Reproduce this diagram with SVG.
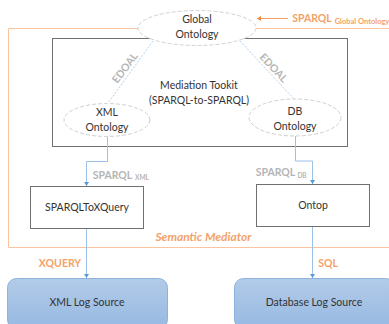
<svg xmlns="http://www.w3.org/2000/svg" width="389" height="324" viewBox="0 0 389 324">
<style>
text{font-family:Lato,"Open Sans","Liberation Sans",sans-serif;fill:#333;font-size:10.500px;text-anchor:middle}
.o{fill:#f4a26a;font-weight:700}
.g{fill:#b5b5b5;font-weight:700}
.e{fill:#fff;stroke:#d0d0d0;stroke-width:1;stroke-dasharray:4 2}
.b{fill:#fff;stroke:#707070;stroke-width:1}
.c{fill:none;stroke:#9cc2e8;stroke-width:1}
.d{fill:none;stroke:#b4d2f0;stroke-width:1;stroke-dasharray:2 1.500}
.s{fill:url(#lg);stroke:#8db3dd;stroke-width:1}
</style>
<defs>
<linearGradient id="lg" x1="0" y1="0" x2="0" y2="1"><stop offset="0" stop-color="#b2cbe8"/><stop offset="1" stop-color="#97b9e2"/></linearGradient>
<marker id="a" markerWidth="5" markerHeight="5" refX="4" refY="2.500" orient="auto" markerUnits="userSpaceOnUse"><path d="M0 0L4 2.500L0 5z" fill="#5b9bd5"/></marker>
<marker id="ao" markerWidth="5" markerHeight="5" refX="4" refY="2.500" orient="auto" markerUnits="userSpaceOnUse"><path d="M0 0L4 2.500L0 5z" fill="#f08a3c"/></marker>
</defs>
<g id="semantic-mediator">
<path d="M140 28.500H8.500V247.500H389M255 28.500H389" fill="none" stroke="#fbc4a0" stroke-width="1"/>
<text x="203.500" y="241" class="o" font-style="italic" style="font-size:12px">Semantic Mediator</text>
</g>
<g id="mediation-toolkit">
<rect x="52.500" y="38.500" width="295" height="108" class="b"/>
<text x="199" y="89">Mediation Tookit</text>
<text x="199" y="104">(SPARQL-to-SPARQL)</text>
</g>
<g id="connectors">
<path d="M153 41L108 103" class="d"/>
<path d="M240 41L294 99" class="d"/>
<path d="M107.500 136V161.500H86.500V186" class="c" marker-end="url(#a)"/>
<path d="M295.500 136V161H312.500V184" class="c" marker-end="url(#a)"/>
<path d="M86.500 229V278" class="c" marker-end="url(#a)"/>
<path d="M312.500 227V278" class="c" marker-end="url(#a)"/>
<path d="M288 18.500H257" fill="none" stroke="#f4a26a" stroke-width="1" marker-end="url(#ao)"/>
</g>
<g id="global-ontology">
<ellipse cx="197" cy="28" rx="59" ry="17.500" class="e"/>
<text x="197" y="23">Global</text>
<text x="197" y="38">Ontology</text>
</g>
<g id="xml-ontology">
<ellipse cx="107" cy="120" rx="43" ry="16.500" class="e"/>
<text x="107" y="116">XML</text>
<text x="107" y="131">Ontology</text>
</g>
<g id="db-ontology">
<ellipse cx="295" cy="117.500" rx="46" ry="18.500" class="e"/>
<text x="295" y="115">DB</text>
<text x="295" y="130">Ontology</text>
</g>
<g id="sparqltoxquery">
<rect x="30.500" y="186.500" width="113" height="42" class="b"/>
<text x="87" y="211">SPARQLToXQuery</text>
</g>
<g id="ontop">
<rect x="256.500" y="184.500" width="113" height="42" class="b"/>
<text x="313" y="209">Ontop</text>
</g>
<g id="xml-log-source">
<rect x="7.500" y="278.500" width="160" height="50" rx="9" class="s"/>
<text x="87" y="306">XML Log Source</text>
</g>
<g id="database-log-source">
<rect x="234.500" y="278.500" width="160" height="50" rx="9" class="s"/>
<text x="314" y="306">Database Log Source</text>
</g>
<g id="labels">
<text class="g" transform="translate(125 68) rotate(-53)" y="3.500">EDOAL</text>
<text class="g" transform="translate(273.500 68) rotate(47)" y="3.500">EDOAL</text>
<text x="312" y="22" class="o">SPARQL</text>
<text x="362" y="24" class="o" style="font-size:7.500px">Global Ontology</text>
<text x="112.500" y="179" class="g">SPARQL</text>
<text x="142" y="180" class="g" style="font-size:6.500px">XML</text>
<text x="275.500" y="176" class="g">SPARQL</text>
<text x="302" y="178" class="g" style="font-size:6.500px">DB</text>
<text x="60" y="267" class="o">XQUERY</text>
<text x="328" y="267" class="o">SQL</text>
</g>
</svg>
